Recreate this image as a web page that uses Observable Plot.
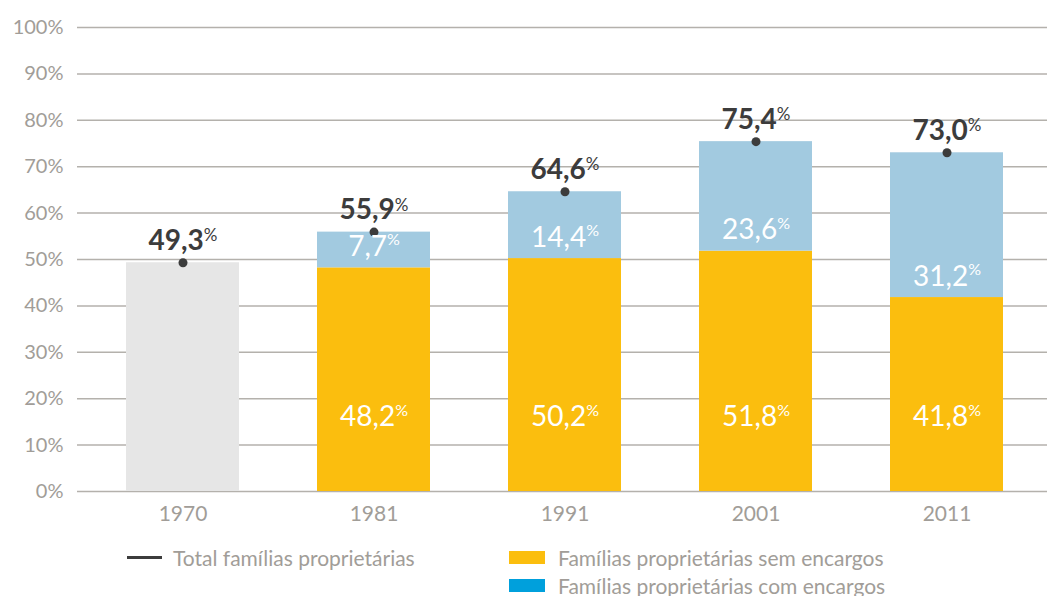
<!DOCTYPE html>
<html>
<head>
<meta charset="utf-8">
<script src="https://cdn.jsdelivr.net/npm/d3@7"></script>
<script src="https://cdn.jsdelivr.net/npm/@observablehq/plot@0.6"></script>
<style>
  body { margin: 0; background: #fff; font-family: Lato, "Open Sans", sans-serif; }
  #wrap { position: relative; width: 1047px; height: 596px; overflow: hidden; }
  #legend { position: relative; width: 1047px; height: 61px; color: #a19d98; font-size: 21px; }
  .item { position: absolute; display: flex; align-items: center; height: 26px; }
  .sw { width: 36px; height: 13px; margin-right: 13px; }
  .ln { width: 35px; height: 3px; background: #3c3c3c; margin-right: 11px; }
</style>
</head>
<body>
<div id="wrap">
  <div id="chart"></div>
  <div id="legend">
    <div class="item" style="left:127px; top:9px;"><div class="ln"></div><span>Total famílias proprietárias</span></div>
    <div class="item" style="left:509px; top:9px;"><div class="sw" style="background:#fbbe0e"></div><span>Famílias proprietárias sem encargos</span></div>
    <div class="item" style="left:509px; top:37px;"><div class="sw" style="background:#00a0dc"></div><span>Famílias proprietárias com encargos</span></div>
  </div>
</div>
<script>
const years = ["1970", "1981", "1991", "2001", "2011"];
const semEncargos = [null, 48.2, 50.2, 51.8, 41.8];
const comEncargos = [null, 7.7, 14.4, 23.6, 31.2];
const total = [49.3, 55.9, 64.6, 75.4, 73.0];
const yTicks = [0, 10, 20, 30, 40, 50, 60, 70, 80, 90, 100];

const rows = years.map((year, i) => ({
  year, sem: semEncargos[i], com: comEncargos[i], total: total[i]
}));
const split = rows.filter(d => d.sem != null);
const whole = rows.filter(d => d.sem == null);
const fmt = v => d3.format(".1f")(v).replace(".", ",") + "%";

const chart = Plot.plot({
  width: 1047,
  height: 535,
  marginLeft: 77,
  marginRight: 0,
  marginTop: 27,
  marginBottom: 44,
  style: { fontFamily: "Lato, 'Open Sans', sans-serif", background: "#fff" },
  x: { type: "band", domain: years, paddingInner: 0.406, paddingOuter: 0.23, align: 0.53, label: null },
  y: { domain: [0, 100], label: null },
  marks: [
    Plot.ruleY(yTicks, { stroke: "#b4b1ac", strokeWidth: 1.5 }),
    Plot.barY(whole, { x: "year", y: "total", fill: "#e6e6e6" }),
    Plot.barY(split, { x: "year", y1: 0, y2: "sem", fill: "#fbbe0e" }),
    Plot.barY(split, { x: "year", y1: "sem", y2: d => d.sem + d.com, fill: "#a2cae0" }),
    Plot.dot(rows, { x: "year", y: "total", r: 4.5, fill: "#3c3c3c" }),
    Plot.text(rows, { x: "year", y: "total", text: d => fmt(d.total), dy: -22, fontSize: 28, fontWeight: "bold", fill: "#3c3c3c", ariaDescription: "rot-total" }),
    Plot.text(split, { x: "year", y: "sem", text: d => fmt(d.com), dy: -21, fontSize: 28, fontWeight: 400, fill: "#ffffff", ariaDescription: "rot-com" }),
    Plot.text(split, { x: "year", y: 0, text: d => fmt(d.sem), dy: -74, fontSize: 28, fontWeight: 400, fill: "#ffffff", ariaDescription: "rot-sem" }),
    Plot.axisY({ ticks: yTicks, tickFormat: d => d + "%", tickSize: 0, tickPadding: 14, fontSize: 20, color: "#a19d98" }),
    Plot.axisX({ tickSize: 0, tickPadding: 15, fontSize: 21, color: "#a19d98" })
  ]
});

// smaller raised "%" sign
d3.select(chart).selectAll('g[aria-description^="rot-"] text').each(function () {
  const s = this.textContent;
  if (!s.endsWith("%")) return;
  const bold = this.parentNode.getAttribute("aria-description") === "rot-total";
  this.textContent = s.slice(0, -1);
  d3.select(this).append("tspan")
    .text("%")
    .attr("font-size", bold ? 17 : 16)
    .attr("font-weight", "normal")
    .attr("dy", bold ? "-0.5em" : "-0.65em");
});

document.getElementById("chart").appendChild(chart);
</script>
</body>
</html>
